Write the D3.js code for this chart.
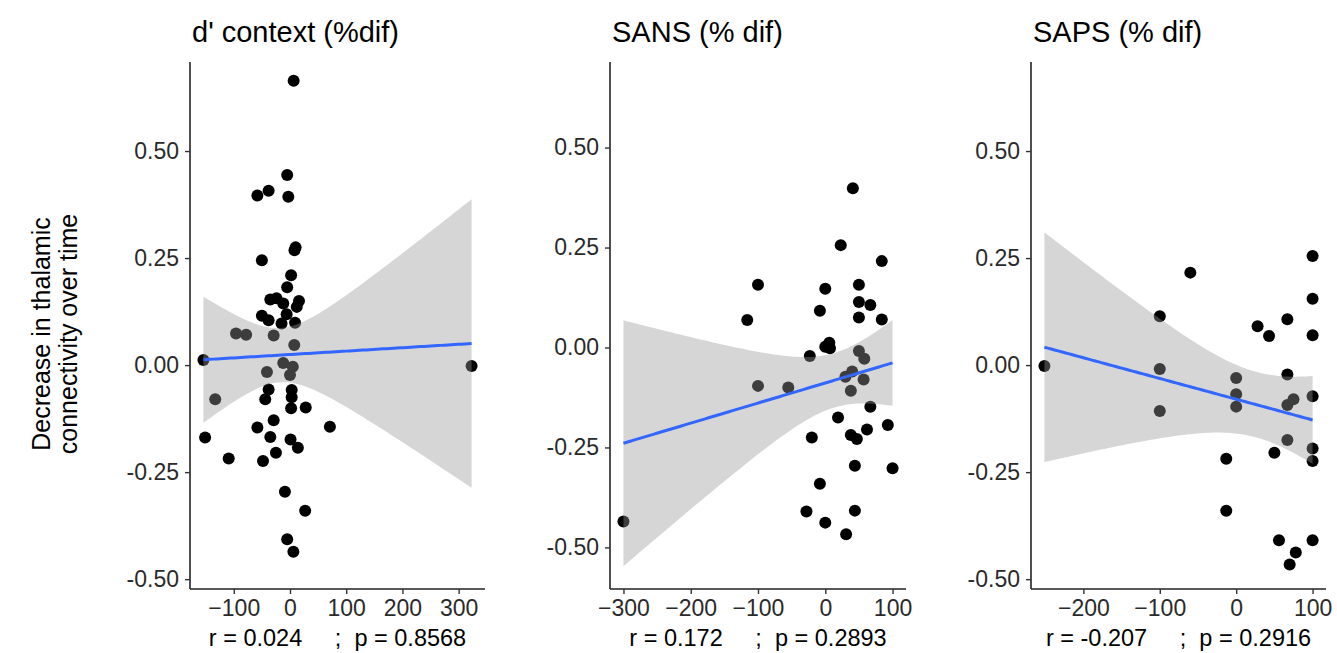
<!DOCTYPE html>
<html>
<head>
<meta charset="utf-8">
<script src="https://cdn.jsdelivr.net/npm/d3@7"></script>
<style>
  html, body { margin: 0; padding: 0; background: #fff; }
  svg { display: block; font-family: "Liberation Sans", Arial, Helvetica, sans-serif; }
</style>
</head>
<body>
<svg id="chart" width="1337" height="653"></svg>
<script>
// ---------------- data ----------------
const dContextX = [6.5, -5, -58, -38, -3, 10, 8, -50, 2, -5, -35, -24, -12, 16, 12, -50, -38, -6, -15, 9,
  -96, -78, -29, 7.6, -154, -12, 5, -41, 0, 323, -133, -38, -44, 3, 3, 2, 28, -29, -58, 71,
  -151, -35, 1, 14, -25, -109, -48, -9, 27, -5, 6];
const dContextY = [0.664, 0.444, 0.396, 0.407, 0.393, 0.275, 0.268, 0.245, 0.210, 0.182, 0.153, 0.156, 0.144, 0.150, 0.136, 0.115, 0.105, 0.119, 0.097, 0.099,
  0.074, 0.071, 0.069, 0.047, 0.012, 0.005, -0.004, -0.016, -0.023, -0.002, -0.080, -0.057, -0.080, -0.058, -0.075, -0.101, -0.099, -0.129, -0.146, -0.144,
  -0.169, -0.168, -0.174, -0.193, -0.205, -0.218, -0.224, -0.296, -0.340, -0.407, -0.436];

const sansX = [41, 23, 84, -100, 0, 50, 50, 67, -8, 50, 84, -116, 6, 0, 7, -23, 50, 58, -100, -55,
  40, 30, 57, 38, 67, 19, 93, -20, 38, 47, 62, 44, 100, -8, -28, 44, 0, 31, -300];
const sansY = [0.398, 0.256, 0.216, 0.157, 0.147, 0.157, 0.114, 0.106, 0.092, 0.075, 0.070, 0.069, 0.012, 0.002, -0.002, -0.021, -0.009, -0.028, -0.096, -0.100,
  -0.060, -0.073, -0.080, -0.108, -0.148, -0.175, -0.194, -0.225, -0.219, -0.229, -0.205, -0.296, -0.302, -0.341, -0.410, -0.408, -0.438, -0.467, -0.435];

const sapsX = [100, -60, 100, -100, 67, 28, 43, 100, -251, -100, 0, 67, 0, 100, 75, 0, -100, 67, 67, 50,
  100, 100, -13, -13, 56, 100, 78, 70];
const sapsY = [0.255, 0.216, 0.155, 0.114, 0.107, 0.091, 0.068, 0.070, -0.002, -0.009, -0.030, -0.022, -0.068, -0.073, -0.080, -0.097, -0.107, -0.093, -0.175, -0.205,
  -0.195, -0.224, -0.219, -0.340, -0.409, -0.409, -0.438, -0.466];

const panelTitles = ["d' context (%dif)", "SANS (% dif)", "SAPS (% dif)"];
const statLabels = ["r = 0.024     ;  p = 0.8568", "r = 0.172     ;  p = 0.2893", "r = -0.207     ;  p = 0.2916"];
const yTicks = [-0.5, -0.25, 0, 0.25, 0.5];
const yTickLabels = ["-0.50", "-0.25", "0.00", "0.25", "0.50"];
const xTicks1 = [-100, 0, 100, 200, 300];
const xTicks2 = [-300, -200, -100, 0, 100];
const xTicks3 = [-200, -100, 0, 100];
const yLimits1 = [-0.523, 0.708];
const yLimits2 = [-0.604, 0.714];
const yLimits3 = [-0.523, 0.708];
const yAxisTitle = ["Decrease in thalamic", "connectivity over time"];

// ---------------- layout ----------------
const panels = [
  { x: dContextX, y: dContextY, xt: xTicks1, yl: yLimits1, left: 190, right: 485 },
  { x: sansX, y: sansY, xt: xTicks2, yl: yLimits2, left: 610, right: 906 },
  { x: sapsX, y: sapsY, xt: xTicks3, yl: yLimits3, left: 1031, right: 1326 }
];
const plotTop = 62, plotBottom = 589;

const svg = d3.select("#chart");

// t quantile (0.975) via Cornish-Fisher expansion
function tq975(df) {
  const z = 1.959964;
  const g1 = (z ** 3 + z) / 4;
  const g2 = (5 * z ** 5 + 16 * z ** 3 + 3 * z) / 96;
  const g3 = (3 * z ** 7 + 19 * z ** 5 + 17 * z ** 3 - 15 * z) / 384;
  return z + g1 / df + g2 / df ** 2 + g3 / df ** 3;
}

function linFit(xs, ys) {
  const n = xs.length;
  const mx = d3.mean(xs), my = d3.mean(ys);
  let sxx = 0, sxy = 0;
  for (let i = 0; i < n; i++) { sxx += (xs[i] - mx) ** 2; sxy += (xs[i] - mx) * (ys[i] - my); }
  const b = sxy / sxx, a = my - b * mx;
  let sse = 0;
  for (let i = 0; i < n; i++) sse += (ys[i] - a - b * xs[i]) ** 2;
  const s = Math.sqrt(sse / (n - 2));
  const t = tq975(n - 2);
  return { a, b, s, t, n, mx, sxx };
}

panels.forEach((p, i) => {
  const [xmin, xmax] = d3.extent(p.x);
  const pad = (xmax - xmin) * 0.05;
  const x = d3.scaleLinear().domain([xmin - pad, xmax + pad]).range([p.left, p.right]);
  const y = d3.scaleLinear().domain(p.yl).range([plotBottom, plotTop]);
  const g = svg.append("g");

  // points
  const pts = p.x.map((v, k) => ({ x: v, y: p.y[k] }));
  g.selectAll("circle").data(pts).join("circle")
    .attr("cx", d => x(d.x)).attr("cy", d => y(d.y)).attr("r", 6)
    .attr("fill", "#000");

  // lm smooth with 95% CI
  const f = linFit(p.x, p.y);
  const grid = d3.range(80).map(k => xmin + (xmax - xmin) * k / 79);
  const band = grid.map(xx => {
    const yh = f.a + f.b * xx;
    const se = f.s * Math.sqrt(1 / f.n + (xx - f.mx) ** 2 / f.sxx);
    return { x: xx, y: yh, lo: yh - f.t * se, hi: yh + f.t * se };
  });
  g.append("path").datum(band)
    .attr("d", d3.area().x(d => x(d.x)).y0(d => y(d.lo)).y1(d => y(d.hi)))
    .attr("fill", "#999999").attr("fill-opacity", 0.4);
  g.append("path").datum(band)
    .attr("d", d3.line().x(d => x(d.x)).y(d => y(d.y)))
    .attr("fill", "none").attr("stroke", "#3366FF").attr("stroke-width", 3);

  // axes
  const xa = g.append("g").attr("transform", `translate(0,${plotBottom})`)
    .call(d3.axisBottom(x).tickValues(p.xt).tickSize(5).tickPadding(6).tickFormat(d3.format("d")));
  const ya = g.append("g").attr("transform", `translate(${p.left},0)`)
    .call(d3.axisLeft(y).tickValues(yTicks).tickSize(5).tickPadding(6).tickFormat((d, k) => yTickLabels[k]));
  [xa, ya].forEach(a => {
    a.select(".domain").attr("stroke", "#222").attr("stroke-width", 1.6);
    a.selectAll(".tick line").attr("stroke", "#333").attr("stroke-width", 1.4);
    a.selectAll(".tick text").attr("fill", "#2a2a2a").style("font-size", "23px")
      .style("font-family", "'Liberation Sans', Arial, sans-serif");
  });
  ya.select(".domain").attr("d", `M0,${plotBottom}V${plotTop}`);
  xa.select(".domain").attr("d", `M${p.left},0H${p.right}`);

  // title
  svg.append("text").attr("x", p.left + 2).attr("y", 42)
    .attr("fill", "#000").style("font-size", "29px").text(panelTitles[i]);

  // stat label
  svg.append("text").attr("x", (p.left + p.right) / 2).attr("y", 646)
    .attr("text-anchor", "middle").attr("fill", "#000")
    .style("font-size", "23.5px").style("white-space", "pre").attr("xml:space", "preserve")
    .text(statLabels[i]);
});

// y axis title (two lines, rotated)
const yt = svg.append("text").attr("transform", "translate(0,334) rotate(-90)")
  .attr("text-anchor", "middle").attr("fill", "#000").style("font-size", "25px");
yt.selectAll("tspan").data(yAxisTitle).join("tspan")
  .attr("x", 0).attr("y", (d, k) => 50 + k * 27).text(d => d);
</script>
</body>
</html>
